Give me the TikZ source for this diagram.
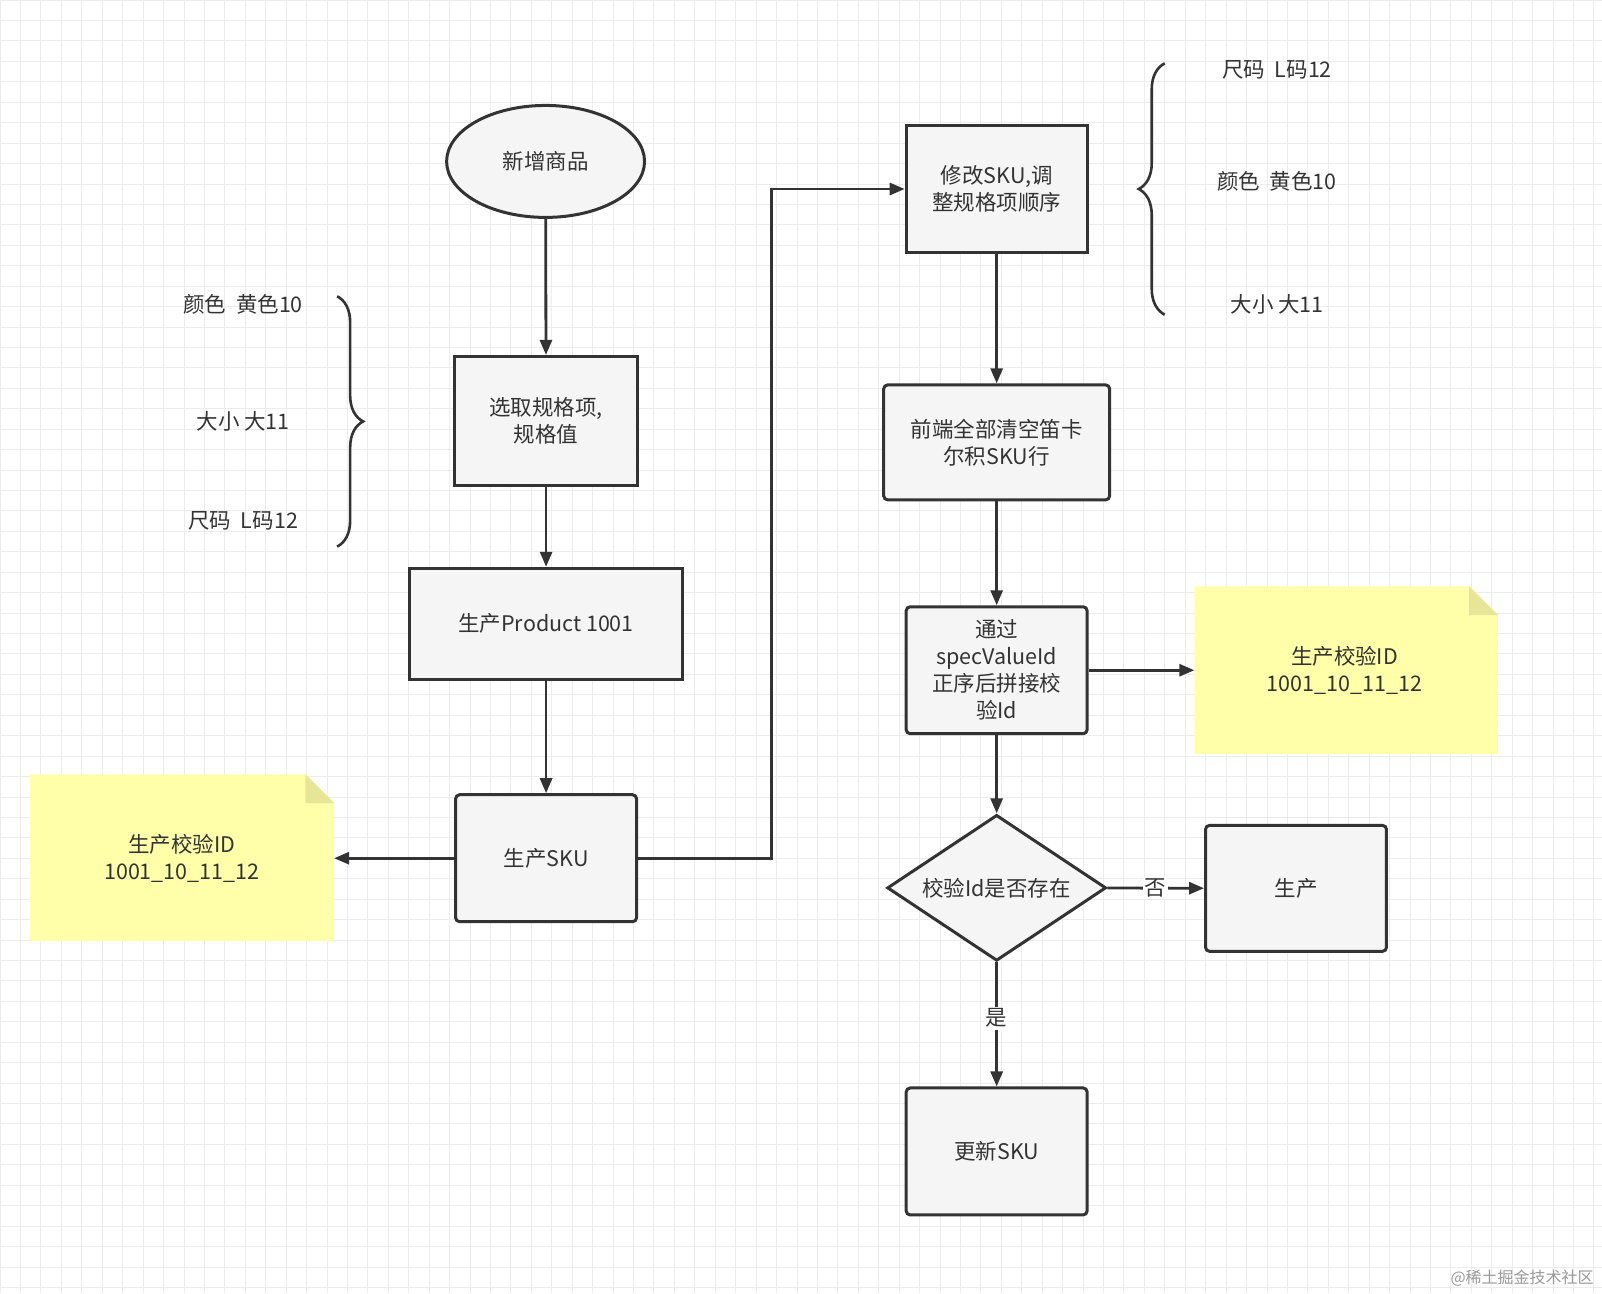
\documentclass[tikz,border=0pt]{standalone}
\usepackage{fontspec}
\setmainfont{Noto Sans CJK SC}
\usetikzlibrary{shapes.geometric, arrows.meta, calc, decorations.pathreplacing}
\definecolor{Boxfill}{RGB}{245, 245, 245}
\definecolor{Boxdraw}{RGB}{51, 51, 51}
\definecolor{Notefill}{RGB}{255, 255, 170}
\definecolor{Notefold}{RGB}{230, 230, 150}
\definecolor{Gridcol}{RGB}{236, 236, 236}

\begin{document}
\begin{tikzpicture}[
    x=1.022pt, y=-1.022pt,
    every node/.style={align=center, font=\fontsize{21.5}{27}\selectfont, text=Boxdraw},
    box/.style={
        rectangle, draw=Boxdraw, fill=Boxfill,
        line width=3pt, inner sep=4pt
    },
    rbox/.style={box, rounded corners=4pt},
    plain/.style={inner sep=2pt},
    arrowstyle/.style={
        -{Triangle[length=15pt, width=12pt]},
        line width=2.8pt, color=Boxdraw
    },
    bracestyle/.style={
        decorate, decoration={brace, amplitude=26pt},
        line width=2.6pt, color=Boxdraw
    }
]

    % ------------------- SFONDO -------------------
    \fill[white] (0,0) rectangle (1568,1266);
    \useasboundingbox (0,0) rectangle (1568,1266);
    \draw[Gridcol, line width=0.8pt, step=20.44pt] (0,0) grid (1568,1266);

    % ------------------- NODI -------------------
    \node[ellipse, draw=Boxdraw, fill=Boxfill, line width=3pt,
          minimum width=198pt, minimum height=112pt] (nuovo) at (534,158) {新增商品};
    \node[box, minimum width=183pt, minimum height=129pt] (scegli) at (534.5,412) {选取规格项,\\规格值};
    \node[box, minimum width=273pt, minimum height=111pt] (product) at (534.5,610.5) {生产Product 1001};
    \node[rbox, minimum width=181pt, minimum height=127pt] (sku) at (534.5,840) {生产SKU};

    \node[box, minimum width=181pt, minimum height=127pt] (modifica) at (975.5,185) {修改SKU,调\\整规格项顺序};
    \node[rbox, minimum width=226pt, minimum height=115pt] (svuota) at (975.5,433) {前端全部清空笛卡\\尔积SKU行};
    \node[rbox, minimum width=181pt, minimum height=127pt] (ordina) at (975.5,656) {通过\\specValueId\\正序后拼接校\\验Id};
    \node[diamond, draw=Boxdraw, fill=Boxfill, line width=3pt, aspect=1.5,
          minimum width=219pt, minimum height=146pt, inner sep=0pt] (esiste) at (975.5,869) {校验Id是否存在};
    \node[rbox, minimum width=181pt, minimum height=126pt] (genera) at (1268.5,869.5) {生产};
    \node[rbox, minimum width=181pt, minimum height=127pt] (aggiorna) at (975.5,1127) {更新SKU};

    % Note gialle
    \fill[Notefill] (29,758) -- (299,758) -- (327,786) -- (327,921) -- (29,921) -- cycle;
    \fill[Notefold] (299,758) -- (327,786) -- (299,786) -- cycle;
    \node[plain] (notaL) at (178,840) {生产校验ID\\1001\_10\_11\_12};
    \coordinate (notaLdx) at (327,840);

    \fill[Notefill] (1169,574) -- (1438,574) -- (1466,602) -- (1466,738) -- (1169,738) -- cycle;
    \fill[Notefold] (1438,574) -- (1466,602) -- (1438,602) -- cycle;
    \node[plain] (notaR) at (1316,656) {生产校验ID\\1001\_10\_11\_12};
    \coordinate (notaRsx) at (1169,656);

    % ------------------- PARENTESI -------------------
    \draw[bracestyle] (330,290) -- (330,535);
    \node[plain] (lColore) at (238,298) {颜色\ \ 黄色10};
    \node[plain] (lGrande) at (238,412) {大小\ 大11};
    \node[plain] (lTaglia) at (238,510) {尺码\ \ L码12};

    \draw[bracestyle] (1140,308) -- (1140,62);
    \node[plain] (rTaglia) at (1250,68) {尺码\ \ L码12};
    \node[plain] (rColore) at (1250,177) {颜色\ \ 黄色10};
    \node[plain] (rGrande) at (1250,298) {大小\ 大11};

    % ------------------- FRECCE -------------------
    \draw[arrowstyle] (nuovo) -- (scegli);
    \draw[arrowstyle] (scegli) -- (product);
    \draw[arrowstyle] (product) -- (sku);
    \draw[arrowstyle] (sku) -- (notaLdx);
    \draw[arrowstyle] (sku.east) -- (755,840) -- (755,185) -- (modifica.west);
    \draw[arrowstyle] (modifica) -- (svuota);
    \draw[arrowstyle] (svuota) -- (ordina);
    \draw[arrowstyle] (ordina.east) -- (notaRsx);
    \draw[arrowstyle] (ordina) -- (esiste);
    \draw[arrowstyle] (esiste) -- node[fill=white, inner sep=2pt] {否} (genera);
    \draw[arrowstyle] (esiste) -- node[fill=white, inner sep=2pt, pos=0.45] {是} (aggiorna);

    % Filigrana
    \node[plain, font=\fontsize{16}{18}\selectfont, text=black!40, anchor=east] (marca) at (1562,1251) {@稀土掘金技术社区};
\end{tikzpicture}
\end{document}
